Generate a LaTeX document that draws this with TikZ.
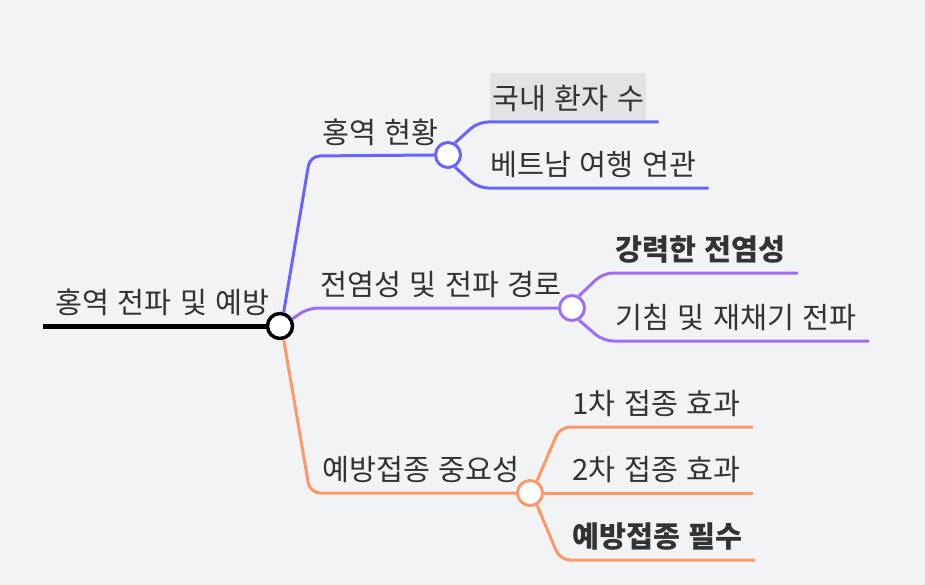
\documentclass[tikz,border=0pt]{standalone}
\usepackage{fontspec}
\setmainfont{Noto Sans CJK KR}[WordSpace=1.3]
\usetikzlibrary{positioning}
\definecolor{bgpaper}{RGB}{242,243,245}
\definecolor{ink}{RGB}{51,51,51}
\definecolor{hlgray}{RGB}{226,227,229}
\definecolor{mapblue}{RGB}{104,100,255}
\definecolor{mappurple}{RGB}{158,110,245}
\definecolor{maporange}{RGB}{255,152,104}
\newcommand{\mapfont}{\fontsize{22pt}{26pt}\selectfont}
\newcommand{\hlmark}[1]{{\setlength{\fboxsep}{1.5pt}\colorbox{hlgray}{\rule[-6pt]{0pt}{32pt}#1}}}

\begin{document}
\begin{tikzpicture}[x=0.75pt, y=-0.75pt,
  topic/.style={anchor=south west, inner xsep=9pt, inner ysep=9pt, text depth=0pt, text=ink, font=\mapfont},
  hub/.style={circle, draw=#1, line width=2.25pt, fill=white, inner sep=0pt, minimum size=18.75pt},
  link/.style={draw=#1, line width=2.25pt, rounded corners=7.5pt}]

  \fill[bgpaper] (0,0) rectangle (925,585);

  % central topic
  \node[hub=black, line width=2.6pt] (root) at (280,326) {};
  \node[topic] (rootlbl) at (43,326) {홍역 전파 및 예방};
  \draw[line width=3.75pt] (rootlbl.south west) -- (root.west);

  % branch: status
  \node[hub=mapblue] (hubA) at (448,155) {};
  \node[topic] (lblA) at (310,156) {홍역 현황};
  \node[topic] (a1) at (478,122) {\hlmark{국내 환자 수}};
  \node[topic] (a2) at (478,188) {베트남 여행 연관};
  \draw[link=mapblue] (root.75) -- (lblA.south west) -- (hubA.west);
  \draw[link=mapblue] (hubA.60) -- (a1.south west) -- (a1.south east);
  \draw[link=mapblue] (hubA.-60) -- (a2.south west) -- (a2.south east);

  % branch: spread
  \node[hub=mappurple] (hubB) at (572,308) {};
  \node[topic] (lblB) at (308,308) {전염성 및 전파 경로};
  \node[topic, font=\mapfont\bfseries] (b1) at (603,273) {강력한 전염성};
  \node[topic] (b2) at (603,341) {기침 및 재채기 전파};
  \draw[link=mappurple] (root.30) -- (lblB.south west) -- (hubB.west);
  \draw[link=mappurple] (hubB.60) -- (b1.south west) -- (b1.south east);
  \draw[link=mappurple] (hubB.-60) -- (b2.south west) -- (b2.south east);

  % branch: vaccination
  \node[hub=maporange] (hubC) at (530,493) {};
  \node[topic] (lblC) at (310,493) {예방접종 중요성};
  \node[topic] (c1) at (560,427) {1차 접종 효과};
  \node[topic] (c2) at (560,493) {2차 접종 효과};
  \node[topic, font=\mapfont\bfseries] (c3) at (560,560) {예방접종 필수};
  \draw[link=maporange] (root.-75) -- (lblC.south west) -- (hubC.west);
  \draw[link=maporange] (hubC.60) -- (c1.south west) -- (c1.south east);
  \draw[link=maporange] (hubC.east) -- (c2.south west) -- (c2.south east);
  \draw[link=maporange] (hubC.-60) -- (c3.south west) -- (c3.south east);
\end{tikzpicture}
\end{document}
